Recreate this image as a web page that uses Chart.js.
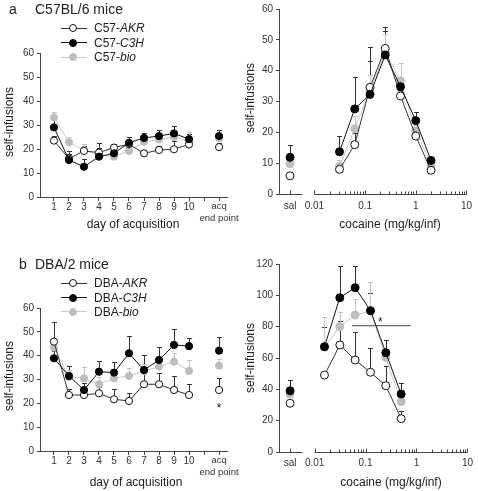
<!DOCTYPE html>
<html>
<head>
<meta charset="utf-8">
<script src="https://cdn.jsdelivr.net/npm/chart.js@4.4.1/dist/chart.umd.min.js"></script>
<style>
  body { margin: 0; width: 478px; height: 491px; background: #fff; position: relative; overflow: hidden;
         font-family: "Liberation Sans", Arial, sans-serif; color: #222; }
  canvas { position: absolute; }
  .t { position: absolute; white-space: nowrap; font-size: 12px; line-height: 12px; z-index: 2; }
  .h { font-size: 14px; line-height: 14px; }
  .cx { transform: translateX(-50%); }
  .rot { transform: translate(-50%, -50%) rotate(-90deg); }
  .sym { position: absolute; width: 26px; height: 9px; z-index: 2; }
  .sym .ln { position: absolute; left: 0; top: 4px; width: 26px; height: 1px; }
  .sym .dot { position: absolute; left: 8px; top: 0.5px; width: 8px; height: 8px; border-radius: 50%;
              border: 1px solid; box-sizing: border-box; }
</style>
</head>
<body>
<canvas id="aDays" width="240" height="235" style="left:0;top:0"></canvas>
<canvas id="aDose" width="238" height="235" style="left:240px;top:0"></canvas>
<canvas id="bDays" width="240" height="251" style="left:0;top:240px"></canvas>
<canvas id="bDose" width="238" height="251" style="left:240px;top:240px"></canvas>

<div class="t h" style="left:9px;top:2px">a</div>
<div class="t h" style="left:35px;top:2px">C57BL/6 mice</div>
<div class="t h" style="left:19px;top:257px">b</div>
<div class="t h" style="left:35px;top:257px">DBA/2 mice</div>

<div id="legendA"></div>
<div id="legendB"></div>

<div class="t cx" style="left:133px;top:218px">day of acquisition</div>
<div class="t cx" style="left:390px;top:217.5px">cocaine (mg/kg/inf)</div>
<div class="t cx" style="left:136px;top:476px">day of acquisition</div>
<div class="t cx" style="left:391px;top:475.5px">cocaine (mg/kg/inf)</div>

<div class="t rot" style="left:8.5px;top:122px">self-infusions</div>
<div class="t rot" style="left:249.8px;top:98px">self-infusions</div>
<div class="t rot" style="left:9.2px;top:376px">self-infusions</div>
<div class="t rot" style="left:249.8px;top:358px">self-infusions</div>

<script>
// x positions / tick labels
const DAYS = [1, 2, 3, 4, 5, 6, 7, 8, 9, 10];
const ACQ_X = 12;
const DAY_TICKS = [1, 2, 3, 4, 5, 6, 7, 8, 9, 10, 11, 12];
const DAY_LABELS = ['1', '2', '3', '4', '5', '6', '7', '8', '9', '10', '', ['acq', 'end point']];

const SAL_X = 0.0033;
const SAL_END = 0.0058;
const DOSE_TICKS = [SAL_X, 0.01, 0.1, 1, 10];
const DOSE_LABELS = ['sal', '0.01', '0.1', '1', '10'];

// a: C57BL/6, acquisition days 1-10 then acq end point
const aAkr    = [23.5, 16.0, 19.2, 18.5, 20.6, 22.0, 18.2, 19.6, 19.9, 21.9, 20.8];
const aAkrErr = [2.0, 2.0, 2.0, 2.0, 1.6, 1.5, 1.5, 1.5, 3.5, 2.0, 1.5];
const aC3h    = [29.0, 15.4, 12.6, 16.8, 18.2, 22.6, 24.6, 25.4, 26.5, 24.1, 25.4];
const aC3hErr = [3.5, 3.9, 3.2, 5.8, 2.5, 2.2, 1.9, 2.5, 3.2, 2.0, 2.5];
const aBio    = [33.2, 22.8, 19.5, 17.5, 16.8, 19.2, 23.0, 24.0, 25.0, 23.0, 24.5];
const aBioErr = [2.4, 2.0, 2.5, 2.0, 2.0, 2.0, 2.0, 2.0, 2.0, 4.2, 2.0];

// a: dose response (first value = saline)
const aDoses = [0.03125, 0.0625, 0.125, 0.25, 0.5, 1, 2];
const aDoseAkr    = [5.9, 8.0, 16.0, 34.6, 47.2, 31.8, 18.8, 7.7];
const aDoseAkrErr = [1.0, 2.0, 3.9, 13.0, 6.8, 2.0, 1.5, 1.0];
const aDoseC3h    = [11.9, 13.7, 27.6, 32.3, 45.1, 34.8, 23.8, 10.9];
const aDoseC3hErr = [4.1, 5.0, 10.4, 10.7, 7.9, 2.0, 2.7, 1.0];
const aDoseBio    = [9.8, 9.0, 21.2, 33.5, 46.0, 36.7, 20.5, 9.5];
const aDoseBioErr = [1.0, 2.0, 4.0, 5.0, 6.0, 5.8, 2.0, 1.0];

// b: DBA/2, acquisition
const bAkr    = [45.9, 23.5, 23.5, 24.2, 21.7, 21.0, 28.0, 28.0, 25.6, 23.5, 25.6];
const bAkrErr = [8.1, 2.5, 2.0, 2.5, 4.5, 3.5, 4.6, 4.6, 5.9, 4.5, 4.9];
const bC3h    = [38.9, 31.5, 25.6, 33.3, 32.9, 41.0, 34.0, 38.2, 44.5, 44.0, 42.1];
const bC3hErr = [3.0, 4.3, 3.0, 4.5, 4.6, 7.3, 6.3, 5.6, 6.5, 3.6, 5.6];
const bBio    = [43.4, 31.0, 30.5, 28.0, 30.5, 31.5, 33.5, 35.4, 37.5, 33.6, 35.8];
const bBioErr = [2.0, 3.0, 4.9, 3.0, 2.0, 3.5, 3.0, 3.0, 3.5, 4.6, 3.0];

// b: dose response (first value = saline)
const bDoses = [0.015625, 0.03125, 0.0625, 0.125, 0.25, 0.5];
const bDoseAkr    = [31.1, 49.1, 68.3, 58.7, 50.9, 42.3, 21.3];
const bDoseAkrErr = [2.0, 2.0, 15.0, 18.1, 15.3, 12.6, 5.1];
const bDoseC3h    = [39.1, 67.2, 98.5, 104.9, 90.2, 63.4, 37.0];
const bDoseC3hErr = [6.9, 12.8, 20.2, 13.8, 11.5, 8.1, 6.8];
const bDoseBio    = [37.0, 67.0, 80.0, 87.4, 90.0, 60.4, 32.1];
const bDoseBioErr = [2.0, 19.0, 9.6, 10.0, 18.7, 2.0, 2.0];

// significance marks
const bSigLineX = [0.054, 0.77];
const bSigLineY = 80.6;
const bDoseStar = { x: 0.194, y: 84.9 };
const bDaysStar = { x: ACQ_X, y: 19.5 };

const AXIS = '#444';
const TEXT = '#333';
Chart.defaults.font.family = '"Liberation Sans", Arial, sans-serif';

const STYLE = {
  C3H: { line: '#111', fill: '#000', edge: '#000', err: '#333' },
  AKR: { line: '#333', fill: '#fff', edge: '#111', err: '#333' },
  bio: { line: '#c8c8c8', fill: '#bdbdbd', edge: '#bdbdbd', err: '#c2c2c2' }
};
const LEGEND_ORDER = ['AKR', 'C3H', 'bio'];

function legend(id, prefix, rows) {
  const el = document.getElementById(id);
  LEGEND_ORDER.forEach((key, i) => {
    const s = STYLE[key];
    const cy = rows[i];
    el.innerHTML +=
      `<div class="sym" style="left:61px;top:${cy - 4.5}px">` +
      `<div class="ln" style="background:${s.line}"></div>` +
      `<div class="dot" style="background:${s.fill};border-color:${s.edge}"></div></div>` +
      `<div class="t" style="left:94px;top:${cy - 5.9}px">${prefix}<i>${key}</i></div>`;
  });
}
legend('legendA', 'C57-', [28.3, 42.7, 57.3]);
legend('legendB', 'DBA-', [283.3, 297.7, 311.7]);

function dayData(vals, errs) {
  const pts = DAYS.map((d, i) => ({ x: d, y: vals[i], e: errs[i] }));
  pts.push({ x: 11, y: null });
  pts.push({ x: ACQ_X, y: vals[10], e: errs[10] });
  return pts;
}

function doseData(doses, vals, errs) {
  const pts = [{ x: SAL_X, y: vals[0], e: errs[0] }, { x: 0.007, y: null }];
  doses.forEach((d, i) => pts.push({ x: d, y: vals[i + 1], e: errs[i + 1] }));
  return pts;
}

function ds(key, data, r) {
  const s = STYLE[key];
  return {
    label: key, data, borderColor: s.line, borderWidth: 1, tension: 0,
    pointBackgroundColor: s.fill, pointBorderColor: s.edge, pointBorderWidth: 1,
    pointRadius: r, errColor: s.err
  };
}

const errorBars = {
  id: 'errorBars',
  beforeDatasetsDraw(chart) {
    const { ctx, scales: { x, y } } = chart;
    ctx.save();
    ctx.lineWidth = 1;
    chart.data.datasets.forEach(d => {
      if (!d.errColor) return;
      ctx.strokeStyle = d.errColor;
      ctx.beginPath();
      d.data.forEach(p => {
        if (p.y == null || !p.e) return;
        const px = Math.round(x.getPixelForValue(p.x)) + 0.5;
        const y0 = y.getPixelForValue(p.y);
        const y1 = Math.round(y.getPixelForValue(p.y + p.e)) + 0.5;
        ctx.moveTo(px, y0);
        ctx.lineTo(px, y1);
        ctx.moveTo(px - 2.5, y1);
        ctx.lineTo(px + 2.5, y1);
      });
      ctx.stroke();
    });
    ctx.restore();
  }
};

// dose axis: short saline segment, then a log axis 0.01-10 with inward ticks
const brokenAxis = {
  id: 'brokenAxis',
  beforeDatasetsDraw(chart) {
    const { ctx, scales: { x }, chartArea: { left, bottom } } = chart;
    const yy = Math.round(bottom) + 0.5;
    ctx.save();
    ctx.strokeStyle = AXIS;
    ctx.lineWidth = 1;
    ctx.beginPath();
    ctx.moveTo(left, yy);
    ctx.lineTo(x.getPixelForValue(SAL_END), yy);
    ctx.moveTo(x.getPixelForValue(0.01), yy);
    ctx.lineTo(x.getPixelForValue(10), yy);
    const tick = (v, len) => {
      const px = Math.round(x.getPixelForValue(v)) + 0.5;
      ctx.moveTo(px, yy);
      ctx.lineTo(px, yy - len);
    };
    tick(SAL_X, 4);
    for (let k = -2; k <= 0; k++) {
      for (let m = 1; m <= 9; m++) tick(m * Math.pow(10, k), m === 1 ? 4 : 3);
    }
    tick(10, 4);
    ctx.stroke();
    ctx.restore();
  }
};

function starPlugin(star) {
  return {
    id: 'star',
    afterDatasetsDraw(chart) {
      const { ctx, scales: { x, y } } = chart;
      ctx.save();
      ctx.fillStyle = '#222';
      ctx.font = '12px "Liberation Sans", Arial, sans-serif';
      ctx.textAlign = 'center';
      ctx.fillText('*', x.getPixelForValue(star.x), y.getPixelForValue(star.y) + 7);
      ctx.restore();
    }
  };
}

function yAxis(max, step, w) {
  return {
    type: 'linear', min: 0, max,
    afterFit: s => { s.width = w; },
    ticks: { stepSize: step, padding: 3, color: TEXT, font: { size: 10 } },
    grid: { drawOnChartArea: false, tickLength: 3, tickColor: AXIS },
    border: { color: AXIS }
  };
}

function dayAxis(h) {
  return {
    type: 'linear', min: 0.07, max: 12.53,
    afterFit: s => { s.height = h; },
    afterBuildTicks: s => { s.ticks = DAY_TICKS.map(v => ({ value: v })); },
    ticks: {
      autoSkip: false, maxRotation: 0, padding: 0, color: TEXT,
      font: c => ({ size: c.index === 11 ? 9.5 : 10 }),
      callback: (v, i) => DAY_LABELS[i]
    },
    grid: { drawOnChartArea: false, tickLength: 4, tickColor: AXIS },
    border: { color: AXIS }
  };
}

function doseAxis(h, pad) {
  return {
    type: 'logarithmic', min: 0.002, max: 10,
    afterFit: s => { s.height = h; },
    afterBuildTicks: s => { s.ticks = DOSE_TICKS.map(v => ({ value: v })); },
    ticks: {
      autoSkip: false, maxRotation: 0, padding: pad, color: TEXT, font: { size: 10 },
      callback: (v, i) => DOSE_LABELS[i]
    },
    grid: { display: false, drawTicks: false },
    border: { display: false }
  };
}

function makeChart(id, cfg) {
  return new Chart(document.getElementById(id), {
    type: 'line',
    data: { datasets: cfg.datasets },
    options: {
      responsive: false, animation: false, events: [],
      layout: { padding: { top: cfg.top, right: cfg.right, left: 0, bottom: 0 } },
      plugins: { legend: { display: false }, tooltip: { enabled: false } },
      scales: { x: cfg.x, y: cfg.y }
    },
    plugins: cfg.plugins
  });
}

makeChart('aDays', {
  top: 53, right: 13,
  x: dayAxis(38), y: yAxis(60, 10, 40),
  datasets: [
    ds('C3H', dayData(aC3h, aC3hErr), 3.6),
    ds('AKR', dayData(aAkr, aAkrErr), 3.6),
    ds('bio', dayData(aBio, aBioErr), 3.6)
  ],
  plugins: [errorBars]
});

makeChart('aDose', {
  top: 6, right: 9,
  x: doseAxis(41, 6), y: yAxis(60, 10, 39),
  datasets: [
    ds('C3H', doseData(aDoses, aDoseC3h, aDoseC3hErr), 4),
    ds('AKR', doseData(aDoses, aDoseAkr, aDoseAkrErr), 4),
    ds('bio', doseData(aDoses, aDoseBio, aDoseBioErr), 4)
  ],
  plugins: [errorBars, brokenAxis]
});

makeChart('bDays', {
  top: 68, right: 13,
  x: dayAxis(40), y: yAxis(60, 10, 40),
  datasets: [
    ds('C3H', dayData(bC3h, bC3hErr), 3.6),
    ds('AKR', dayData(bAkr, bAkrErr), 3.6),
    ds('bio', dayData(bBio, bBioErr), 3.6)
  ],
  plugins: [errorBars, starPlugin(bDaysStar)]
});

makeChart('bDose', {
  top: 24, right: 8,
  x: doseAxis(39, 5), y: yAxis(120, 20, 39),
  datasets: [
    ds('C3H', doseData(bDoses, bDoseC3h, bDoseC3hErr), 4),
    ds('AKR', doseData(bDoses, bDoseAkr, bDoseAkrErr), 4),
    ds('bio', doseData(bDoses, bDoseBio, bDoseBioErr), 4),
    {
      data: bSigLineX.map(x => ({ x, y: bSigLineY })),
      borderColor: AXIS, borderWidth: 1, pointRadius: 0
    }
  ],
  plugins: [errorBars, brokenAxis, starPlugin(bDoseStar)]
});
</script>
</body>
</html>
